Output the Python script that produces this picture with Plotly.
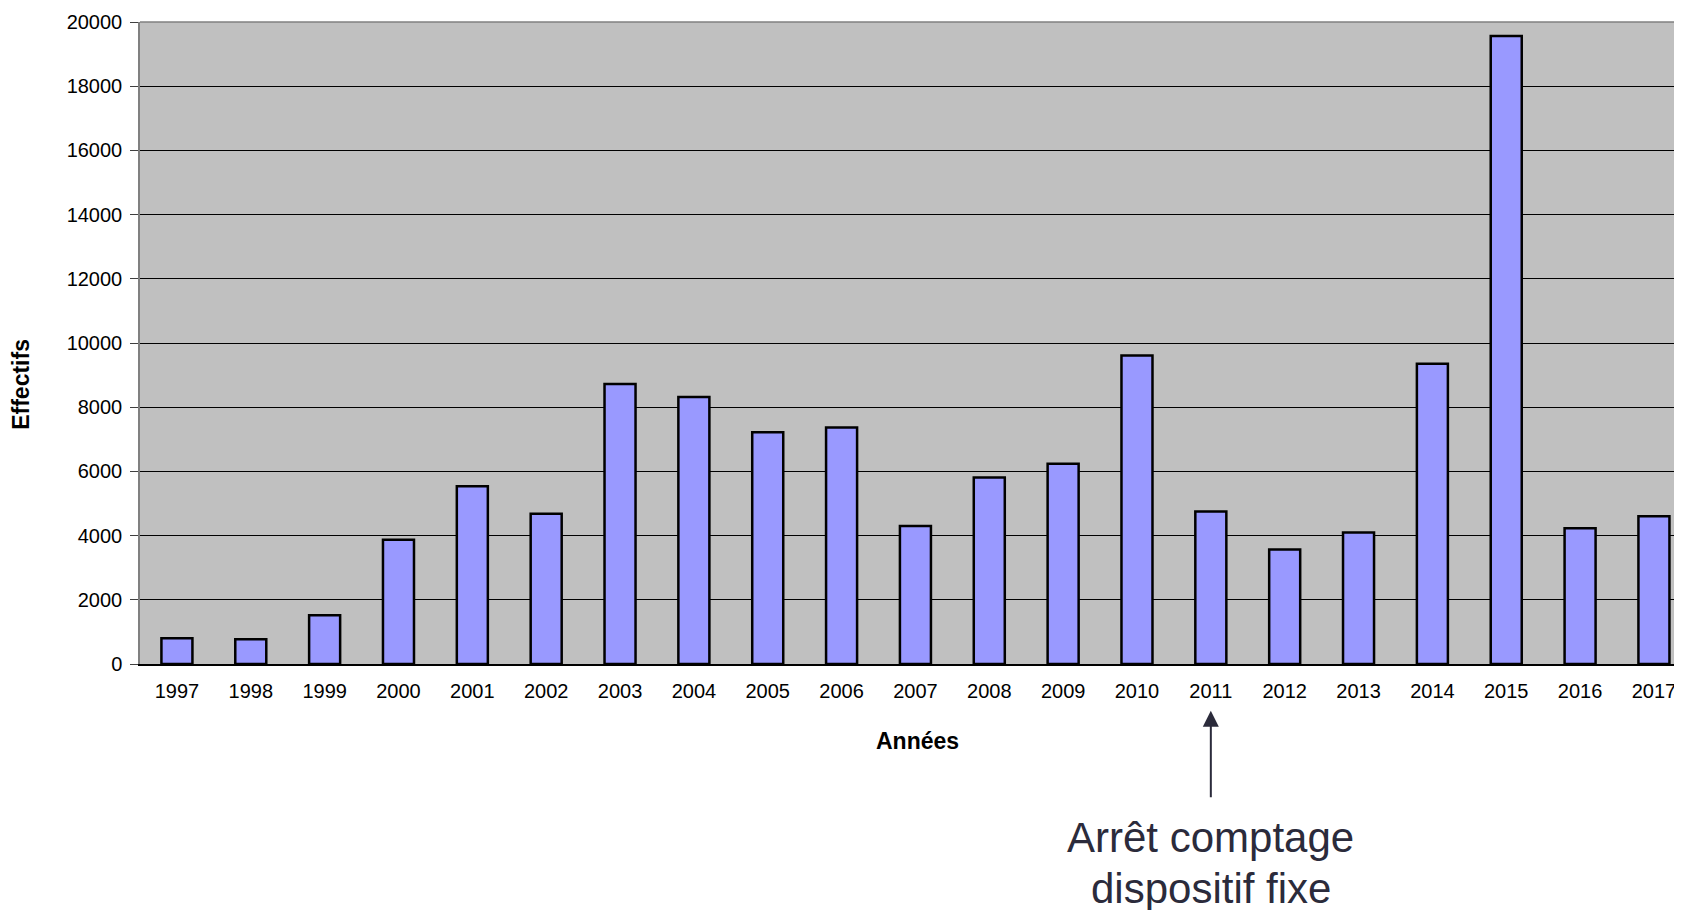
import plotly.graph_objects as go

years = [str(y) for y in range(1997, 2018)]
effectifs = [800, 770, 1520, 3870, 5540, 4680, 8720, 8320, 7220, 7370, 4300,
             5810, 6240, 9610, 4750, 3570, 4100, 9350, 19560, 4230, 4600]
y_ticks = list(range(0, 20001, 2000))
y_tick_labels = [str(v) for v in y_ticks]
annotation_lines = ["Arrêt comptage", "dispositif fixe"]
arrow_year = "2011"
arrow_index = years.index(arrow_year)
x_title = "Années"
y_title = "Effectifs"

FONT = "Liberation Sans, Arial, sans-serif"

fig = go.Figure()
fig.add_trace(go.Bar(
    x=years, y=effectifs,
    width=0.42,
    marker=dict(color="#9999ff", line=dict(color="black", width=2.5)),
    showlegend=False,
))

fig.update_layout(
    width=1674, height=902,
    margin=dict(l=132, r=0, t=13.5, b=246, autoexpand=False),
    paper_bgcolor="white",
    plot_bgcolor="#c0c0c0",
    font=dict(family=FONT, size=20, color="black"),
    xaxis=dict(
        type="category",
        range=[-0.5, 20.38],
        automargin=False,
        showgrid=False,
        showline=True, linecolor="black", linewidth=1.5,
        ticks="", tickfont=dict(size=20), ticklabelstandoff=8,
    ),
    yaxis=dict(
        range=[0, 20000],
        automargin=False,
        tickvals=y_ticks, ticktext=y_tick_labels,
        showgrid=True, gridcolor="black", gridwidth=1,
        zeroline=False,
        showline=True, linecolor="#808080", linewidth=1.5,
        ticks="outside", ticklen=8, tickcolor="#404040",
        tickfont=dict(size=20), ticklabelstandoff=4,
    ),
)

# top border of plot area
fig.add_shape(type="line", xref="paper", yref="paper", x0=0, x1=1, y0=1, y1=1,
              line=dict(color="#808080", width=1.5))

# axis titles
fig.add_annotation(x=0.504, y=-0.1198, xref="paper", yref="paper",
                   text=f"<b>{x_title}</b>", showarrow=False,
                   font=dict(family=FONT, size=23, color="black"),
                   xanchor="center", yanchor="middle")
fig.add_annotation(x=-0.0768, y=0.4358, xref="paper", yref="paper",
                   text=f"<b>{y_title}</b>", showarrow=False, textangle=-90,
                   font=dict(family=FONT, size=23, color="black"),
                   xanchor="center", yanchor="middle")

# arrow pointing to 2011
fig.add_annotation(
    x=arrow_index, y=-0.073, xref="x", yref="paper",
    ax=0, ay=88,
    text="", showarrow=True,
    arrowhead=2, arrowsize=1.6, arrowwidth=2, arrowcolor="#2b2b3b",
)
# annotation text
for i, line in enumerate(annotation_lines):
    fig.add_annotation(
        x=arrow_index, y=-0.271 - i * 0.078, xref="x", yref="paper",
        text=line, showarrow=False,
        font=dict(family=FONT, size=42, color="#2b2b3b"),
        xanchor="center", yanchor="middle",
    )

fig.write_html("out.html")
